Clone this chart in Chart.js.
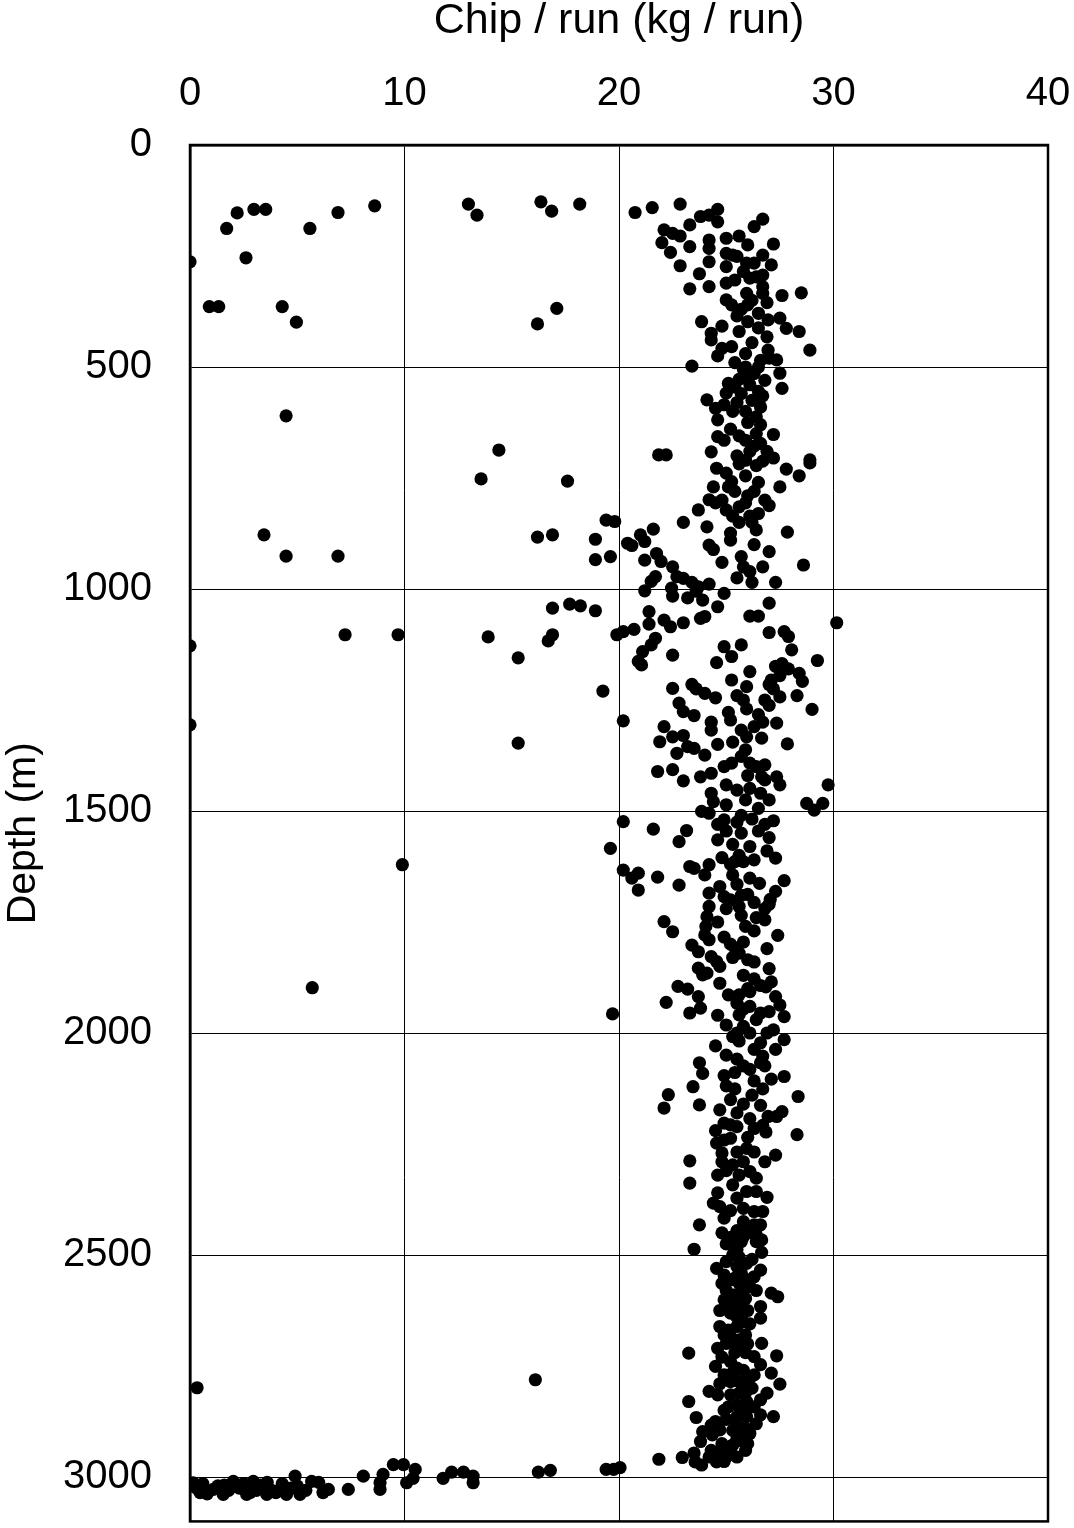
<!DOCTYPE html>
<html>
<head>
<meta charset="utf-8">
<script src="https://cdn.jsdelivr.net/npm/chart.js@4/dist/chart.umd.min.js"></script>
<style>
html,body{margin:0;padding:0;background:#fff;}
#wrap{width:1074px;height:1528px;}
</style>
</head>
<body>
<div id="wrap"><canvas id="c" width="1074" height="1528"></canvas></div>
<script>
// ---- Data: [chip per run (kg/run), depth (m)] ----
const xTitle = "Chip / run (kg / run)";
const yTitle = "Depth (m)";
const xTicks = [0, 10, 20, 30, 40];
const yTicks = [0, 500, 1000, 1500, 2000, 2500, 3000];

const outliersTop = [
  [0,263],[1.71,188],[2.2,153],[2.98,145],[3.53,145],[2.61,254],[5.59,188],[6.9,152],[8.61,137],
  [0.9,364],[1.34,364],[4.3,364],[4.96,399],[4.48,610],[12.98,133],[13.38,158],[16.36,128],
  [16.86,149],[18.17,133],[17.1,368],[16.2,403],[20.75,152],[14.4,687],[13.57,752],[17.6,757]
];
const outliersMid = [
  [3.45,878],[4.48,926],[6.9,926],[16.2,883],[16.9,878],[7.23,1103],[9.7,1103],[13.9,1108],
  [0,1128],[15.3,1155],[16.7,1117],[16.9,1103],[16.9,1043],[17.7,1034],[18.2,1038],[18.9,1049],
  [0,1306],[15.3,1347],[19.25,1230],[9.9,1621],[5.7,1898],[19.7,1957],[0.33,2799],[16.1,2781]
];
const band0to500 = [
  [21.55,141],[22.85,133],[24.6,145],[24.6,173],[23.8,161],[24.2,158],[23.3,180],[22.1,191],
  [22.5,199],[22.85,205],[22.0,220],[22.4,242],[22.85,272],[23.3,229],[23.75,290],[23.3,324],
  [24.2,319],[24.2,214],[24.2,233],[24.2,263],[25.0,210],[25.0,244],[25.0,274],[25.3,248],
  [25.5,251],[25.0,311],[25.4,304],[25.0,349],[25.25,360],[25.95,266],[26.3,266],[26.4,297],
  [26.7,293],[26.7,319],[26.7,334],[25.95,334],[26.3,184],[26.7,167],[27.2,223],[26.7,248],
  [27.6,339],[28.5,333],[26.5,379],[26.95,394],[27.5,390],[27.8,413],[28.4,420],[28.9,462],
  [23.85,398],[24.3,424],[24.3,439],[24.8,408],[24.8,458],[25.25,454],[23.4,498],[26.9,432],
  [26.95,462],[27.0,480],[27.35,484],[25.6,205],[26.0,225],[25.8,285],[26.2,350],[25.7,370],
  [26.0,398],[26.5,412],[25.6,420],[26.2,445],[25.9,470],[26.6,485],[25.4,490],[24.6,475],
  [26.0,360],[25.5,385],[26.9,355],[27.1,270],[26.1,300]
];
const band500to1000 = [
  [27.5,514],[27.6,548],[25.8,505],[26.3,515],[25.6,528],[26.1,540],[25.7,560],[26.2,575],
  [26.6,590],[25.9,600],[26.4,612],[26.8,530],[26.5,555],[25.1,537],[25.0,559],[24.1,574],
  [24.5,593],[24.9,585],[24.6,619],[24.6,657],[25.2,640],[25.6,655],[25.9,665],[26.4,650],
  [27.2,652],[26.6,672],[26.3,678],[21.85,698],[22.2,698],[24.3,691],[24.55,728],[25.0,739],
  [25.25,758],[24.4,770],[25.6,718],[25.9,710],[26.4,722],[26.7,712],[27.2,705],[27.8,730],
  [28.4,745],[26.5,760],[28.9,709],[28.9,716],[25.9,500],[26.5,500],[26.0,520],[25.4,545],
  [26.7,565],[25.5,580],[26.0,625],[25.3,600],[26.6,630],[24.9,665],[26.1,690],[25.5,700],
  [26.9,690],[25.1,770],[25.9,745],[26.3,780],[24.8,800],[25.6,815],[26.5,830],[27.0,812],
  [26.2,850],[24.2,799],[24.5,806],[25.0,822],[25.3,836],[25.6,850],[25.9,806],[26.1,836],
  [23.7,822],[23.0,850],[24.1,860],[24.2,901],[24.4,911],[25.2,874],[25.7,927],[25.8,950],
  [26.1,961],[26.7,950],[27.0,916],[26.4,867],[27.85,872],[28.6,946],[18.9,888],[18.9,934],
  [19.6,927],[19.4,845],[19.8,848],[20.4,897],[20.6,902],[21.0,878],[21.2,893],[21.6,865],
  [21.2,935],[21.75,920],[21.96,938],[22.5,950],[22.7,972],[21.7,972],[21.5,983],[21.2,1004],
  [22.45,998],[22.5,1016],[23.0,976],[23.4,985],[23.6,1005],[23.2,1020],[23.9,1025],[23.7,995],
  [24.2,989],[24.9,1010],[25.4,780],[26.0,790],[26.8,800],[27.5,770],[25.2,890],[24.8,940],
  [26.3,900],[25.5,975],[26.2,985],[27.3,985]
];
const band1000to1640 = [
  [24.6,1040],[23.8,1066],[24.0,1062],[23.0,1076],[22.4,1085],[22.1,1070],[21.4,1051],[21.4,1079],
  [20.7,1091],[20.2,1096],[19.9,1103],[21.7,1111],[21.5,1126],[21.1,1141],[20.9,1163],[21.05,1171],
  [22.5,1149],[22.5,1224],[22.8,1257],[23.0,1276],[22.1,1310],[21.9,1344],[22.5,1333],[22.7,1370],
  [21.8,1411],[22.5,1407],[23.0,1432],[23.2,1355],[23.5,1359],[24.0,1374],[23.8,1423],[24.3,1415],
  [24.3,1460],[24.4,1479],[23.85,1501],[24.2,1505],[25.0,1486],[24.9,1400],[25.25,1392],[25.7,1377],
  [25.9,1362],[25.0,1441],[25.5,1453],[25.9,1475],[26.1,1449],[26.6,1460],[26.5,1494],[26.65,1423],
  [26.8,1430],[27.35,1423],[27.5,1441],[26.1,1392],[26.4,1400],[26.8,1396],[28.75,1483],[29.1,1498],
  [29.5,1483],[29.75,1441],[30.15,1076],[29.25,1161],[29.0,1271],[27.85,1349],[28.3,1240],[28.4,1190],
  [28.55,1208],[28.05,1137],[27.7,1096],[27.9,1107],[27.0,1098],[27.0,1032],[26.1,1061],[26.5,1061],
  [25.7,1126],[24.9,1130],[25.25,1152],[24.55,1166],[26.1,1186],[25.95,1220],[25.25,1205],[27.3,1174],
  [27.6,1168],[27.9,1180],[27.5,1195],[27.1,1205],[27.2,1225],[27.5,1243],[27.0,1215],[26.8,1250],
  [27.0,1262],[26.5,1283],[26.7,1300],[25.95,1270],[25.1,1278],[25.2,1295],[24.3,1300],[24.3,1318],
  [24.0,1235],[24.5,1245],[23.4,1215],[23.6,1225],[27.35,1302],[25.7,1318],[25.95,1333],[26.3,1310],
  [26.65,1336],[25.5,1240],[25.8,1250],[23.5,1285],[23.0,1330],[24.6,1350],[25.3,1345],[26.0,1420],
  [27.0,1475],[25.7,1510],[24.6,1530],[20.2,1297],[20.2,1524],[21.6,1541],[19.6,1584],[22.8,1569],
  [23.15,1544],[24.9,1520],[25.5,1525],[26.2,1518],[26.8,1530],[27.2,1522],[25.0,1545],[25.7,1550],
  [26.5,1545],[27.0,1560],[24.6,1565],[25.3,1575],[26.1,1580],[26.9,1590],[25.6,1600],[24.8,1605],
  [26.3,1610],[25.2,1620],[27.3,1606]
];
const band1600to2450 = [
  [20.2,1633],[20.6,1651],[20.9,1640],[20.9,1678],[21.8,1649],[22.8,1667],[23.3,1625],[23.5,1629],
  [24.0,1644],[24.2,1621],[25.3,1644],[25.4,1614],[25.8,1614],[26.1,1651],[26.55,1663],[27.7,1657],
  [27.3,1681],[27.05,1699],[24.2,1685],[24.2,1715],[24.1,1738],[24.05,1760],[24.0,1779],[24.2,1790],
  [24.9,1693],[25.7,1690],[26.0,1688],[26.3,1706],[25.6,1715],[25.7,1735],[26.4,1740],[26.8,1720],
  [27.0,1710],[26.8,1745],[25.2,1700],[22.1,1749],[22.5,1772],[23.4,1802],[23.7,1817],[24.9,1784],
  [25.2,1800],[25.4,1808],[25.8,1795],[25.6,1820],[25.3,1830],[26.0,1835],[26.3,1770],[25.9,1760],
  [24.3,1828],[24.55,1839],[24.7,1850],[23.7,1854],[23.9,1869],[24.1,1865],[24.7,1888],[25.1,1914],
  [22.75,1895],[23.2,1901],[22.2,1931],[23.7,1918],[23.8,1944],[23.3,1955],[25.0,1982],[25.5,1933],
  [25.8,1946],[25.6,1959],[26.1,1940],[26.4,1970],[26.6,1955],[27.0,1952],[26.85,1896],[27.1,1885],
  [27.0,1855],[27.3,1918],[27.5,1937],[27.7,1963],[27.2,1993],[27.7,2015],[27.3,2037],[25.8,1870],
  [26.3,1878],[26.0,1900],[26.6,1893],[26.1,1907],[25.6,1914],[25.5,2000],[25.6,2018],[25.3,2008],
  [26.3,2037],[26.6,2022],[26.7,2052],[26.8,2074],[26.6,2067],[24.5,2029],[23.75,2067],[23.9,2091],
  [23.45,2121],[22.3,2139],[22.1,2169],[23.75,2162],[24.7,2173],[24.9,2096],[25.5,2059],[25.4,2089],
  [25.0,2119],[25.4,2126],[25.8,2074],[26.1,2082],[26.3,2108],[26.7,2126],[27.1,2104],[27.7,2098],
  [28.35,2143],[28.3,2229],[27.3,2275],[27.6,2177],[27.35,2188],[26.95,2188],[24.9,2203],[25.2,2207],
  [25.5,2211],[26.1,2193],[26.3,2215],[26.6,2163],[26.7,2208],[26.85,2223],[24.55,2248],[24.9,2241],
  [25.2,2237],[25.5,2268],[25.95,2260],[26.3,2268],[23.3,2288],[24.8,2290],[24.6,2320],[23.3,2338],
  [25.3,2297],[25.6,2320],[26.1,2312],[26.4,2327],[25.3,2342],[25.95,2357],[26.4,2357],[24.4,2383],
  [24.7,2391],[24.9,2417],[23.75,2432],[25.5,2372],[25.8,2395],[26.3,2402],[26.7,2402],[25.8,2425],
  [26.3,2432],[26.6,2432],[25.5,2445],[26.0,2450],[25.2,2460],[26.4,2440],[25.7,2470],
  [25.2,2150],[25.8,2160],[26.2,2140],[25.5,2180],[24.5,2220],[26.0,2235],[25.8,2290],[24.8,2270],
  [26.8,2290],[25.0,2310],[24.6,2360],[25.2,2400],[26.9,2370],[24.8,2450],[26.4,2470],[25.0,2050],
  [26.1,2000],[26.9,2000],[25.8,1985],[24.6,1960],[26.3,1840],[26.9,1810],[27.4,1780],[24.6,1750],
  [25.0,1720],[25.5,1665],[24.7,1670]
];
const band2450to2990 = [
  [23.5,2487],[25.2,2474],[25.8,2459],[26.4,2455],[26.65,2466],[25.5,2488],[26.65,2494],[24.55,2530],
  [25.0,2515],[25.5,2526],[25.95,2519],[26.6,2534],[26.3,2549],[24.8,2564],[25.2,2556],[25.6,2564],
  [26.0,2556],[25.8,2579],[26.1,2571],[27.1,2586],[27.4,2594],[24.9,2601],[25.0,2616],[25.3,2609],
  [25.7,2605],[25.6,2631],[25.2,2631],[26.6,2616],[26.6,2642],[24.7,2661],[25.1,2669],[25.5,2661],
  [25.8,2650],[25.2,2684],[25.6,2691],[25.0,2699],[24.6,2710],[26.65,2699],[23.25,2721],[25.9,2720],
  [26.3,2729],[26.6,2747],[27.35,2727],[24.5,2751],[24.9,2770],[25.2,2740],[25.5,2755],[25.6,2785],
  [25.95,2792],[26.1,2777],[25.2,2785],[27.1,2766],[27.5,2791],[26.9,2811],[26.6,2826],[24.2,2807],
  [24.6,2815],[25.2,2815],[25.6,2811],[23.25,2830],[23.6,2866],[25.1,2842],[25.5,2838],[25.95,2830],
  [26.3,2842],[25.5,2864],[25.95,2864],[26.6,2860],[27.2,2864],[24.5,2875],[24.3,2883],[23.9,2898],
  [24.35,2905],[24.7,2894],[25.5,2883],[25.9,2890],[26.1,2902],[25.5,2913],[25.8,2920],[25.3,2928],
  [25.0,2935],[25.2,2943],[21.86,2960],[22.95,2956],[23.5,2946],[23.55,2966],[23.85,2973],[24.2,2955],
  [24.55,2966],[19.4,2983],[19.75,2983],[20.05,2979],[25.3,2500],[25.7,2540],[25.4,2590],[26.0,2625],
  [25.9,2680],[25.4,2720],[25.8,2760],[26.2,2800],[25.8,2850],[25.0,2870],[25.6,2900],[24.8,2925],
  [25.0,2955],[24.9,2965],[25.0,2475],[25.6,2505],[26.2,2510],[24.9,2545],[25.4,2552],[26.4,2580],
  [25.0,2580],[25.9,2598],[24.7,2625],[25.5,2640],[26.1,2655],[24.9,2680],[25.5,2705],[26.0,2700],
  [24.8,2730],[25.3,2765],[24.7,2790],[25.9,2810],[26.3,2770],[24.9,2850],[26.0,2845],[25.3,2895],
  [26.4,2880],[25.9,2940],[24.6,2945],[25.5,2955],[26.0,2925],[24.3,2940],[23.8,2920]
];
const bottomRuns = [
  [16.24,2989],[16.8,2985],[11.8,3003],[12.2,2989],[12.75,2989],[13.2,2998],[13.2,3013],[9.48,2972],
  [9.95,2972],[10.5,2983],[10.4,3003],[10.1,3013],[9.0,2994],[8.86,3013],[8.86,3028],[8.08,2998],
  [6.45,3028],[7.38,3028],[5.67,3010],[4.9,2998],[5.13,3039],[4.5,3039],[4.2,3028],[3.58,3039],
  [2.95,3010],[2.64,3039],[2.02,3010],[1.55,3039],[1.09,3028],[0.47,3035],[0.15,3013],[0.3,3025],
  [0.8,3038],[1.3,3020],[1.8,3030],[2.3,3025],[2.8,3035],[3.3,3018],[3.8,3030],[4.3,3015],
  [4.7,3025],[5.4,3030],[6.0,3012],[0.6,3015],[1.6,3018],[2.5,3015],[3.1,3030],[3.6,3012],
  [4.0,3035],[5.0,3020],[6.2,3035]
];

const allPoints = [].concat(outliersTop, outliersMid, band0to500, band500to1000,
  band1000to1640, band1600to2450, band2450to2990, bottomRuns).map(p => ({x: p[0], y: p[1]}));

const FONT = "'Liberation Sans', Arial, sans-serif";

const framePlugin = {
  id: 'frame',
  afterDatasetsDraw(chart) {
    const {ctx, chartArea: a} = chart;
    ctx.save();
    ctx.strokeStyle = '#000';
    ctx.lineWidth = 2.5;
    ctx.strokeRect(a.left, a.top, a.right - a.left, a.bottom - a.top);
    ctx.restore();
  }
};

new Chart(document.getElementById('c'), {
  type: 'scatter',
  data: {
    datasets: [{
      data: allPoints,
      backgroundColor: '#000',
      borderWidth: 0,
      pointRadius: 6.6,
      pointHoverRadius: 6.6
    }]
  },
  options: {
    responsive: false,
    devicePixelRatio: 1,
    animation: false,
    layout: { padding: { top: 0, right: 26, bottom: 6, left: 0 } },
    plugins: { legend: { display: false }, tooltip: { enabled: false } },
    scales: {
      x: {
        type: 'linear',
        position: 'top',
        min: xTicks[0],
        max: xTicks[xTicks.length - 1],
        afterBuildTicks: s => { s.ticks = xTicks.map(v => ({value: v})); },
        afterFit: s => { s.height = 145; s.paddingLeft = 0; s.paddingRight = 0; },
        grid: { color: '#000', lineWidth: 1, drawTicks: false },
        border: { color: '#000', width: 2.5 },
        ticks: { color: '#000', font: { family: FONT, size: 40 }, padding: 27, maxRotation: 0,
                 callback: v => String(v) },
        title: { display: true, text: xTitle, color: '#000',
                 font: { family: FONT, size: 43, lineHeight: 1 }, padding: { top: 0, bottom: 0 } }
      },
      y: {
        type: 'linear',
        reverse: true,
        min: 0,
        max: 3100,
        afterBuildTicks: s => { s.ticks = yTicks.map(v => ({value: v})); },
        afterFit: s => { s.width = 190; s.paddingTop = 0; s.paddingBottom = 0; },
        grid: { color: '#000', lineWidth: 1, drawTicks: false },
        border: { color: '#000', width: 2.5 },
        ticks: { color: '#000', font: { family: FONT, size: 40 }, padding: 38,
                 callback: v => String(v) },
        title: { display: true, text: yTitle, color: '#000',
                 font: { family: FONT, size: 41, lineHeight: 1 }, padding: { top: 3, bottom: 0 } }
      }
    }
  },
  plugins: [framePlugin]
});
</script>
</body>
</html>
